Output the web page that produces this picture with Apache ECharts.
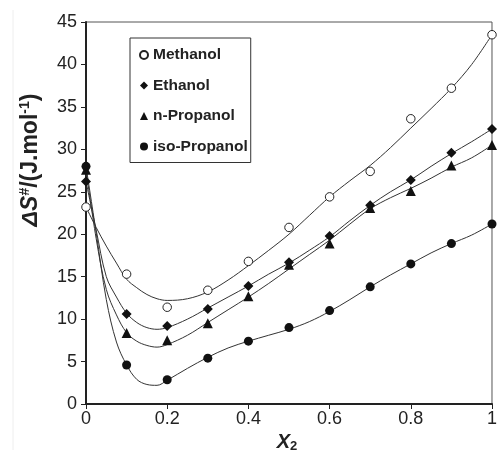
<!DOCTYPE html>
<html>
<head>
<meta charset="utf-8">
<script src="https://cdn.jsdelivr.net/npm/echarts@6/dist/echarts.min.js"></script>
<style>
html,body{margin:0;padding:0;background:#fff;}
#chart{width:500px;height:455px;}
</style>
</head>
<body>
<div id="chart"></div>
<script>
// measured points
const xPoints = [0, 0.1, 0.2, 0.3, 0.4, 0.5, 0.6, 0.7, 0.8, 0.9, 1.0];
const methanol = [23.2, 15.3, 11.4, 13.4, 16.8, 20.8, 24.4, 27.4, 33.6, 37.2, 43.5];
const ethanol = [26.2, 10.6, 9.2, 11.2, 13.9, 16.7, 19.8, 23.4, 26.4, 29.6, 32.4];
const nPropanol = [27.6, 8.35, 7.5, 9.5, 12.7, 16.4, 18.9, 23.1, 25.1, 28.1, 30.5];
const isoPropanol = [28.0, 4.6, 2.85, 5.4, 7.4, 9.0, 11.0, 13.8, 16.5, 18.9, 21.2];

// fitted curves
const xFit = [0, 0.025, 0.05, 0.075, 0.1, 0.125, 0.15, 0.175, 0.2, 0.25, 0.3, 0.35, 0.4, 0.45, 0.5, 0.55, 0.6, 0.65, 0.7, 0.75, 0.8, 0.85, 0.9, 0.95, 1.0];
const methanolFit = [23.2, 20.8, 18.6, 16.6, 14.7, 13.7, 12.9, 12.4, 12.2, 12.4, 13.2, 14.6, 16.3, 18.1, 20.0, 22.2, 24.4, 26.3, 28.1, 30.2, 32.5, 34.8, 37.2, 40.0, 43.5];
const ethanolFit = [26.2, 20.5, 15.0, 12.6, 10.7, 9.6, 9.0, 8.8, 9.0, 10.0, 11.3, 12.6, 13.9, 15.3, 16.6, 18.1, 19.7, 21.6, 23.4, 25.0, 26.4, 28.0, 29.5, 30.9, 32.4];
const nPropanolFit = [27.6, 19.5, 13.5, 10.5, 8.4, 7.4, 6.9, 6.7, 7.0, 8.1, 9.6, 11.1, 12.6, 14.2, 15.9, 17.6, 19.3, 21.2, 23.0, 24.3, 25.4, 26.6, 27.9, 29.0, 30.5];
const isoPropanolFit = [28.0, 20.2, 12.3, 7.3, 4.6, 2.9, 2.3, 2.2, 2.8, 4.2, 5.5, 6.6, 7.4, 8.1, 8.8, 9.7, 10.9, 12.3, 13.8, 15.2, 16.5, 17.8, 18.9, 19.9, 21.2];

const names = ['Methanol', 'Ethanol', 'n-Propanol', 'iso-Propanol'];
const yTicks = [0, 5, 10, 15, 20, 25, 30, 35, 40, 45];
const xTicks = [0, 0.2, 0.4, 0.6, 0.8, 1];

const FONT = '"Liberation Sans", Arial, Helvetica, sans-serif';
const pair = (xs, ys) => xs.map((x, i) => [x, ys[i]]);

const chart = echarts.init(document.getElementById('chart'), null, {renderer: 'canvas'});

const markerDefs = [
  {symbol: 'circle', size: 8.5, color: '#ffffff', border: '#222', bw: 1},
  {symbol: 'diamond', size: 10, color: '#111', border: '#111', bw: 0},
  {symbol: 'triangle', size: 10, color: '#111', border: '#111', bw: 0},
  {symbol: 'circle', size: 9, color: '#111', border: '#111', bw: 0}
];
const pointSets = [methanol, ethanol, nPropanol, isoPropanol];
const fitSets = [methanolFit, ethanolFit, nPropanolFit, isoPropanolFit];

const series = [];
fitSets.forEach((f, i) => {
  series.push({
    name: 'fit ' + names[i],
    type: 'line',
    data: pair(xFit, f),
    smooth: 0.35,
    showSymbol: false,
    symbol: 'none',
    lineStyle: {color: '#333', width: 1},
    silent: true,
    z: 2
  });
});
pointSets.forEach((p, i) => {
  const m = markerDefs[i];
  series.push({
    name: names[i],
    type: 'scatter',
    data: pair(xPoints, p),
    symbol: m.symbol,
    symbolSize: m.size,
    itemStyle: {color: m.color, borderColor: m.border, borderWidth: m.bw, opacity: 1},
    z: 3
  });
});

chart.setOption({
  animation: false,
  backgroundColor: '#fff',
  grid: {left: 86, right: 2.5, top: 22, bottom: 51, show: true, borderColor: '#555', borderWidth: 1, backgroundColor: 'transparent'},
  legend: {
    data: names,
    orient: 'vertical',
    left: 130, top: 38,
    itemWidth: 8, itemHeight: 8,
    itemGap: 14.5,
    padding: [9, 3, 8, 9],
    borderColor: '#333', borderWidth: 1,
    backgroundColor: '#fff',
    textStyle: {fontFamily: FONT, fontWeight: 'bold', fontSize: 15.5, color: '#222'}
  },
  xAxis: {
    type: 'value', min: xTicks[0], max: xTicks[xTicks.length - 1], interval: 0.2,
    axisLine: {show: true, lineStyle: {color: '#222', width: 2}},
    axisTick: {show: true, length: 5, lineStyle: {color: '#222', width: 1}},
    axisLabel: {fontFamily: FONT, fontSize: 18, color: '#222', margin: 6,
      formatter: v => String(+v.toFixed(1))},
    splitLine: {show: false}
  },
  yAxis: {
    type: 'value', min: yTicks[0], max: yTicks[yTicks.length - 1], interval: 5,
    axisLine: {show: true, lineStyle: {color: '#222', width: 2}},
    axisTick: {show: true, length: 5, lineStyle: {color: '#222', width: 1}},
    axisLabel: {fontFamily: FONT, fontSize: 18, color: '#222', margin: 9},
    splitLine: {show: false}
  },
  graphic: [
    {type: 'line', shape: {x1: 13, y1: 10, x2: 13, y2: 450}, style: {stroke: '#eeeeee', lineWidth: 1}, silent: true},
    {
      type: 'text', x: 31, y: 160, rotation: Math.PI / 2,
      style: {
        text: '{a|ΔS}{s|#}{b|/(J.mol}{s|-1}{b|)}',
        align: 'center', verticalAlign: 'middle',
        fill: '#222',
        rich: {
          a: {fontFamily: FONT, fontSize: 23, fontWeight: 'bold', fontStyle: 'italic', fill: '#222', lineHeight: 26},
          b: {fontFamily: FONT, fontSize: 23, fontWeight: 'bold', fill: '#222', lineHeight: 26},
          s: {fontFamily: FONT, fontSize: 14, fontWeight: 'bold', fill: '#222', verticalAlign: 'top', lineHeight: 15}
        }
      }
    },
    {
      type: 'text', x: 287, y: 442,
      style: {
        text: '{a|X}{s|2}',
        align: 'center', verticalAlign: 'middle',
        fill: '#222',
        rich: {
          a: {fontFamily: FONT, fontSize: 20, fontWeight: 'bold', fontStyle: 'italic', fill: '#222', lineHeight: 22},
          s: {fontFamily: FONT, fontSize: 13, fontWeight: 'bold', fill: '#222', verticalAlign: 'bottom', lineHeight: 13}
        }
      }
    }
  ],
  series: series
});
</script>
</body>
</html>
